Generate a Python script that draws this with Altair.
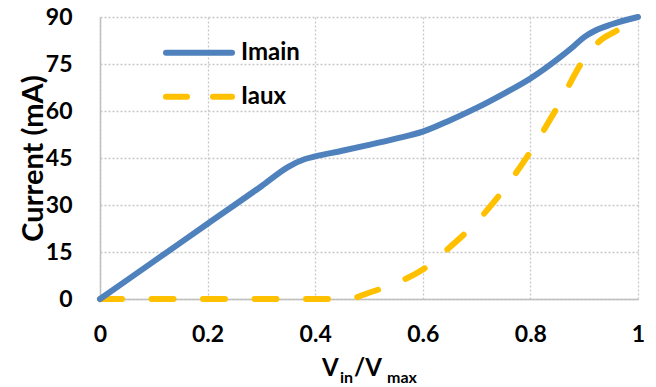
import altair as alt
import pandas as pd

# ---- data ----
v_main = [0, 0.1, 0.2, 0.3, 0.35, 0.38, 0.4, 0.45, 0.5, 0.55, 0.6, 0.65, 0.7, 0.75, 0.8, 0.85, 0.88, 0.9, 0.92, 0.95, 1.0]
i_main = [0, 12, 24, 36, 42.2, 44.6, 45.5, 47.3, 49.2, 51.2, 53.4, 57, 61, 65.5, 70.4, 76.5, 80.6, 83.6, 85.6, 87.6, 90]

v_aux = [0, 0.1, 0.2, 0.3, 0.4, 0.46, 0.5, 0.55, 0.6, 0.65, 0.7, 0.75, 0.8, 0.85, 0.9, 0.93, 0.96, 1.0]
i_aux = [0, 0, 0, 0, 0, 0, 2.0, 5.1, 9.4, 16.5, 24.6, 34.8, 47.0, 61.2, 76.6, 82.5, 85.6, 90]

x_ticks = [0, 0.2, 0.4, 0.6, 0.8, 1]
y_ticks = [0, 15, 30, 45, 60, 75, 90]
series_names = ["Imain", "Iaux"]
series_colors = ["#4F81BD", "#FFC000"]

df_main = pd.DataFrame({"v": v_main, "i": i_main, "series": series_names[0]})
df_aux = pd.DataFrame({"v": v_aux, "i": i_aux, "series": series_names[1]})

FONT = "Lato"
FS = 23

xscale = alt.Scale(domain=[0, 1], nice=False)
yscale = alt.Scale(domain=[0, 90], nice=False)

x_enc = alt.X("v:Q", scale=xscale, axis=alt.Axis(
    values=x_ticks, format="~g", title=None, grid=True,
    gridDash=[2, 2], gridColor="#C8C8C8", gridWidth=1.3,
    domainColor="#BFBFBF", domainWidth=1.5, ticks=False,
    labelFont=FONT, labelFontWeight="bold", labelFontSize=FS, labelColor="black",
    labelPadding=24, labelFlush=False))
y_enc = alt.Y("i:Q", scale=yscale, axis=alt.Axis(
    values=y_ticks, title="Current (mA)", grid=True,
    gridDash=[2, 2], gridColor="#C8C8C8", gridWidth=1.3,
    domainColor="#BFBFBF", domainWidth=1.5, ticks=False,
    labelFont=FONT, labelFontWeight="bold", labelFontSize=FS, labelColor="black",
    labelPadding=28, labelFlush=False,
    titleFont=FONT, titleFontWeight="bold", titleFontSize=29, titleColor="black",
    titleX=-58, titleY=141, titleAngle=270, titleAlign="center",
    titleBaseline="alphabetic"))

aux = alt.Chart(df_aux).mark_line(
    color=series_colors[1], strokeWidth=6, strokeDash=[22, 29.5], strokeCap="round",
    interpolate="monotone").encode(x=x_enc, y=y_enc)
main = alt.Chart(df_main).mark_line(
    color=series_colors[0], strokeWidth=6, strokeCap="round",
    interpolate="monotone").encode(x=x_enc, y=y_enc)

one = alt.InlineData(values=[{"k": 1}])

def rule(x1, x2, y, color, dash=None):
    kw = dict(color=color, strokeWidth=6, strokeCap="round")
    if dash:
        kw["strokeDash"] = dash
    return alt.Chart(one).mark_rule(**kw).encode(
        x=alt.value(x1), x2=alt.value(x2), y=alt.value(y))

def label(txt, x, y, size=FS, baseline="alphabetic"):
    return alt.Chart(one).mark_text(
        text=txt, align="left", baseline=baseline, font=FONT, fontWeight="bold",
        fontSize=size, color="black").encode(x=alt.value(x), y=alt.value(y))

legend = [
    rule(66, 132, 35.7, series_colors[0]),
    label(series_names[0], 141, 42.5, 24),
    rule(66, 132, 79.7, series_colors[1], [21, 26]),
    label(series_names[1], 141, 87, 24),
]

xtitle = [
    label("V", 222, 359, 24),
    label("in", 240, 366, 16),
    label("/V", 254, 359, 24),
    label("max", 287, 366, 16),
]

chart = alt.layer(aux, main, *legend, *xtitle).properties(
    width=538, height=282,
    padding={"left": 92, "top": 9, "right": 10, "bottom": 88},
    autosize=alt.AutoSizeParams(type="none"),
).configure_view(stroke=None)

chart.save("out.html", embed_options={"renderer": "svg", "actions": False})
